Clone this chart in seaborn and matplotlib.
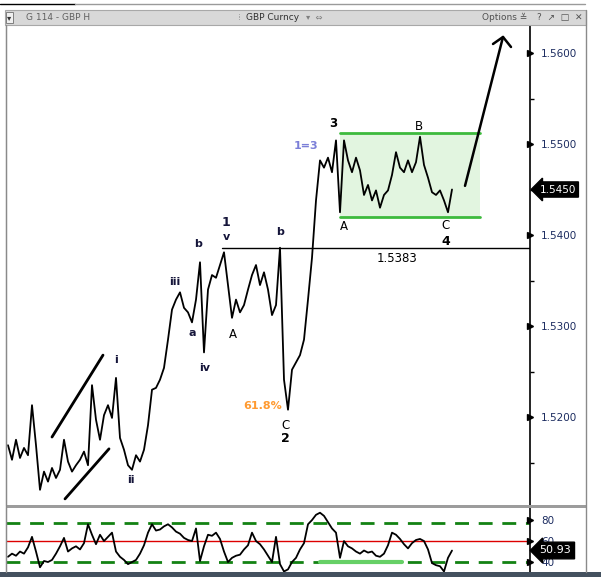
import numpy as np
import matplotlib
matplotlib.use("Agg")
import matplotlib.pyplot as plt
from matplotlib.patches import Rectangle
from matplotlib.lines import Line2D
import seaborn as sns

# GBP hourly closes
price = [
    1.5169, 1.5153, 1.5175, 1.5155, 1.5166, 1.5158, 1.5213, 1.5169, 1.5120, 1.5140,
    1.5129, 1.5144, 1.5133, 1.5142, 1.5175, 1.5151, 1.5140, 1.5147, 1.5153, 1.5162,
    1.5147, 1.5235, 1.5197, 1.5175, 1.5202, 1.5213, 1.5199, 1.5243, 1.5177, 1.5164,
    1.5147, 1.5142, 1.5158, 1.5151, 1.5164, 1.5191, 1.5230, 1.5232, 1.5241, 1.5254,
    1.5285, 1.5318, 1.5329, 1.5337, 1.5320, 1.5315, 1.5304, 1.5329, 1.5370, 1.5271,
    1.5340, 1.5356, 1.5353, 1.5367, 1.5381, 1.5345, 1.5309, 1.5329, 1.5315, 1.5323,
    1.5340, 1.5356, 1.5367, 1.5345, 1.5359, 1.5340, 1.5312, 1.5323, 1.5386, 1.5241,
    1.5208, 1.5252, 1.5260, 1.5268, 1.5285, 1.5329, 1.5375, 1.5438, 1.5482, 1.5474,
    1.5485, 1.5469, 1.5504, 1.5425, 1.5504, 1.5482, 1.5469, 1.5485, 1.5471, 1.5444,
    1.5455, 1.5438, 1.5449, 1.5430, 1.5444, 1.5449, 1.5466, 1.5491, 1.5474, 1.5469,
    1.5482, 1.5469, 1.5480, 1.5508, 1.5477, 1.5463, 1.5447, 1.5444, 1.5449, 1.5438,
    1.5425, 1.5450,
]

rsi = [
    45, 48, 46, 50, 48, 54, 64, 50, 35, 41,
    40, 42, 48, 55, 63, 50, 53, 55, 52, 58,
    76, 66, 57, 66, 60, 64, 68, 50, 45, 42,
    38, 40, 42, 48, 56, 68, 76, 70, 71, 74,
    76, 73, 69, 67, 63, 61, 60, 72, 41, 55,
    66, 65, 68, 62, 50, 40, 44, 46, 47, 52,
    56, 68, 60, 57, 52, 46, 40, 64, 38, 31,
    33, 40, 44, 52, 58, 76, 80, 85, 87, 84,
    78, 72, 68, 44, 60, 55, 53, 50, 48, 51,
    49, 50, 46, 45, 48, 56, 68, 66, 62, 57,
    53, 58, 61, 62, 60, 52, 39, 37, 36, 31,
    44, 50.93,
]

bars = np.arange(len(price))
price_ticks = [1.52, 1.53, 1.54, 1.55, 1.56]
price_minor = [1.515, 1.525, 1.535, 1.545, 1.555]
rsi_ticks = [40, 60, 80]
last_price = "1.5450"
last_rsi = "50.93"

sns.set_style("white")
plt.rcParams["font.family"] = ["DejaVu Sans"]

W, H = 601, 577
fig = plt.figure(figsize=(W / 100, H / 100), dpi=100)


def box(x0, y0, x1, y1):
    return [x0 / W, 1 - y1 / H, (x1 - x0) / W, (y1 - y0) / H]


ax = fig.add_axes(box(6, 25, 530, 505))
ax_rsi = fig.add_axes(box(6, 508, 530, 572))
label_col = "#1c2c60"
wave_col = "#15153a"

# ---------------- price panel ----------------
sns.lineplot(x=bars, y=price, ax=ax, color="black", lw=1.3)
ax.set_xlim(-0.5, 130.5)
ax.set_ylim(1.51033, 1.563077)

# consolidation box (wave 4)
ax.add_patch(Rectangle((83, 1.5420), 35, 0.0092, fc="#e2f5e0", ec="none", zorder=0))
ax.plot([83, 118], [1.5512, 1.5512], color="#3dba3d", lw=2)
ax.plot([83, 118], [1.5420, 1.5420], color="#3dba3d", lw=2)

# wave 1 high line
ax.plot([53.5, 130.5], [1.5386, 1.5386], color="black", lw=1)

# leading diagonal
ax.plot([11, 23.75], [1.5178, 1.5268], color="black", lw=2)
ax.plot([14.25, 25.25], [1.5110, 1.5165], color="black", lw=2)

# projection arrow
ax.plot([114.25, 123.75], [1.5454, 1.56176], color="black", lw=1.8)
ax.plot([121.25, 123.75, 125.75], [1.56099, 1.56176, 1.56066], color="black", lw=1.8)

labels = [
    ("i", 27, 1.5263, wave_col, 8, "bold"),
    ("ii", 30.75, 1.5131, wave_col, 8, "bold"),
    ("iii", 41.75, 1.5348, wave_col, 8, "bold"),
    ("a", 46, 1.5292, wave_col, 8, "bold"),
    ("b", 47.5, 1.5390, wave_col, 8, "bold"),
    ("iv", 49.25, 1.5254, wave_col, 8, "bold"),
    ("v", 54.5, 1.5398, wave_col, 8, "bold"),
    ("1", 54.5, 1.5414, wave_col, 9, "bold"),
    ("A", 56.25, 1.5291, "black", 8.5, "normal"),
    ("b", 68, 1.5403, wave_col, 8, "bold"),
    ("61.8%", 63.75, 1.5212, "#ff9a30", 8, "bold"),
    ("C", 69.25, 1.5191, "black", 8.5, "normal"),
    ("2", 69.25, 1.5176, "black", 9, "bold"),
    ("1=3", 74.5, 1.5498, "#7b7fd8", 8, "bold"),
    ("3", 81.25, 1.5522, "black", 8.5, "bold"),
    ("A", 84, 1.5409, "black", 8.5, "normal"),
    ("B", 102.75, 1.5519, "black", 8.5, "normal"),
    ("C", 109.5, 1.5410, "black", 8.5, "normal"),
    ("4", 109.5, 1.5393, "black", 9, "bold"),
    ("1.5383", 97.25, 1.5374, "black", 8.5, "normal"),
]
for txt, x, y, col, fs, fw in labels:
    ax.text(x, y, txt, color=col, fontsize=fs, fontweight=fw, ha="center", va="center")

# right price axis
ax.yaxis.tick_right()
ax.set_yticks(price_ticks)
ax.set_yticklabels(["%.4f" % t for t in price_ticks])
ax.set_yticks(price_minor, minor=True)
ax.tick_params(axis="y", which="major", right=True, length=0, pad=8,
               labelsize=7.5, labelcolor=label_col)
ax.tick_params(axis="y", which="minor", right=True, length=3, width=1, color="black")
ax.set_xticks([])
ax.plot([1.0] * len(price_ticks), price_ticks, marker=">", ms=5, ls="none",
        color="black", transform=ax.get_yaxis_transform(), clip_on=False)
ax.text(1.018, float(last_price), last_price, transform=ax.get_yaxis_transform(),
        ha="left", va="center", color="white", fontsize=7.5,
        bbox=dict(boxstyle="larrow,pad=0.25", fc="black", ec="black"))

for s in ["top", "bottom"]:
    ax.spines[s].set_visible(False)
ax.spines["left"].set_color("#8c8c8c")
ax.spines["right"].set_color("black")
ax.spines["right"].set_linewidth(1.2)

# ---------------- RSI panel ----------------
sns.lineplot(x=bars, y=rsi, ax=ax_rsi, color="black", lw=1.3)
ax_rsi.set_xlim(-0.5, 130.5)
ax_rsi.set_ylim(30.5, 91.5)
ax_rsi.axhline(77, color="#138213", lw=2, dashes=(5, 3.5), zorder=1)
ax_rsi.axhline(40, color="#138213", lw=2, dashes=(5, 3.5), zorder=1)
ax_rsi.axhline(60, color="#dd0000", lw=1, zorder=1)
ax_rsi.plot([78, 98.5], [40.3, 40.3], color="#66d066", lw=3, zorder=1)

ax_rsi.yaxis.tick_right()
ax_rsi.set_yticks(rsi_ticks)
ax_rsi.tick_params(axis="y", right=True, length=0, pad=8, labelsize=7.5, labelcolor=label_col)
ax_rsi.set_xticks([])
ax_rsi.plot([1.0] * len(rsi_ticks), rsi_ticks, marker=">", ms=5, ls="none",
            color="black", transform=ax_rsi.get_yaxis_transform(), clip_on=False)
ax_rsi.text(1.018, 51.0, last_rsi, transform=ax_rsi.get_yaxis_transform(),
            ha="left", va="center", color="white", fontsize=8, zorder=5,
            bbox=dict(boxstyle="larrow,pad=0.3", fc="black", ec="black"))
for s in ["top", "bottom"]:
    ax_rsi.spines[s].set_visible(False)
ax_rsi.spines["left"].set_color("#8c8c8c")
ax_rsi.spines["right"].set_color("black")
ax_rsi.spines["right"].set_linewidth(1.2)

# ---------------- window frame ----------------
fig.add_artist(Line2D([0, 75 / W], [1 - 4 / H] * 2, color="black", lw=1))
fig.add_artist(Line2D([75 / W, 585 / W], [1 - 4 / H] * 2, color="#9a9a9a", lw=1))
fig.add_artist(Rectangle((5 / W, 1 - 25 / H), 581 / W, 15 / H, transform=fig.transFigure,
                         fc="#d8d8d8", ec="#a8a8a8", lw=0.8))
fig.add_artist(Rectangle((6 / W, 1 - 23 / H), 7 / W, 11 / H, transform=fig.transFigure,
                         fc="#f0f0f0", ec="#707070", lw=0.6))
fig.text(9.5 / W, 1 - 17.5 / H, "▾", fontsize=6, ha="center", va="center", color="#333333")
fig.text(26 / W, 1 - 17.5 / H, "G 114 - GBP H", fontsize=6.5, va="center", color="#606060")
fig.text(238 / W, 1 - 17.5 / H, "⁞", fontsize=6.5, va="center", color="#909090")
fig.text(246 / W, 1 - 17.5 / H, "GBP Curncy", fontsize=6.5, va="center", color="#303030")
fig.text(306 / W, 1 - 17.5 / H, "▾  ⇔", fontsize=6, va="center", color="#808080")
fig.text(482 / W, 1 - 17.5 / H, "Options ≚", fontsize=6.5, va="center", color="#505050")
fig.text(537 / W, 1 - 17.5 / H, "?  ↗  □  ✕", fontsize=6.5, va="center", color="#505050")

fig.add_artist(Rectangle((6 / W, 1 - 508 / H), 580 / W, 3 / H, transform=fig.transFigure,
                         fc="#9c9c9c", ec="none"))
fig.add_artist(Line2D([585.5 / W] * 2, [1 - 572 / H, 1 - 10 / H], color="#8a8a8a", lw=1))
fig.add_artist(Line2D([5.5 / W] * 2, [1 - 572 / H, 1 - 25 / H], color="#8a8a8a", lw=1))
fig.add_artist(Rectangle((0, 0), 1, 5 / H, transform=fig.transFigure,
                         fc="#44515f", ec="none"))

fig.savefig("out.png", dpi=100)
